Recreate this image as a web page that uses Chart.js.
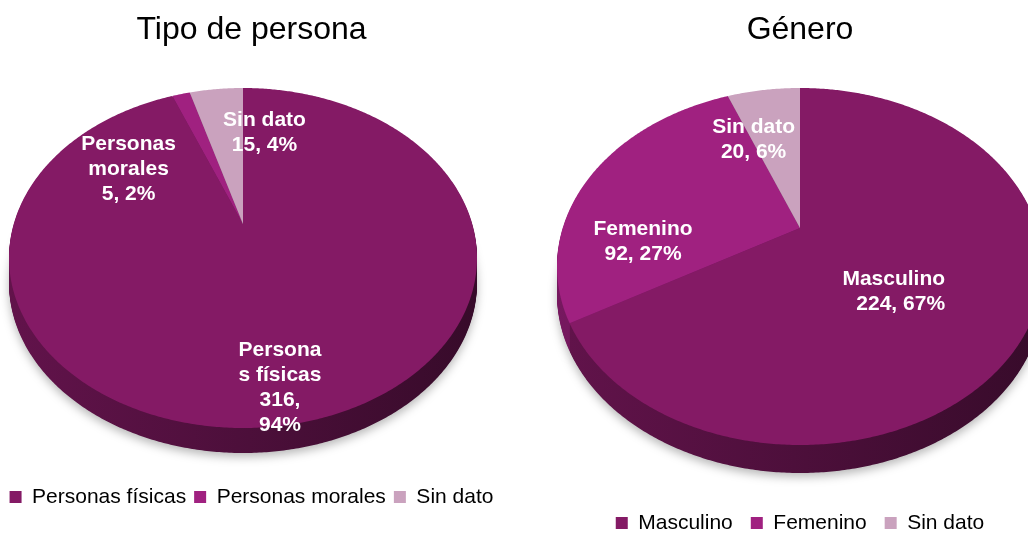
<!DOCTYPE html>
<html lang="es">
<head>
<meta charset="utf-8">
<title>Tipo de persona y Género</title>
<script src="https://cdn.jsdelivr.net/npm/chart.js@4.4.1/dist/chart.umd.min.js"></script>
<style>
  html, body { margin: 0; padding: 0; background: #fff; overflow: hidden; }
  body { width: 1028px; height: 533px; position: relative; }
  canvas { position: absolute; top: 0; }
  #tipo { left: 0; }
  #genero { left: 520px; }
</style>
</head>
<body>
<canvas id="tipo" width="503" height="533"></canvas>
<canvas id="genero" width="560" height="560"></canvas>
<script>
// Data
const tipoLabels = ['Personas físicas', 'Personas morales', 'Sin dato'];
const tipoValues = [316, 5, 15];
const tipoPercents = [94, 2, 4];

const generoLabels = ['Masculino', 'Femenino', 'Sin dato'];
const generoValues = [224, 92, 20];
const generoPercents = [67, 27, 6];

const sliceColors = ['#841a65', '#a02180', '#caa2be'];

Chart.defaults.font.family = "'Liberation Sans', Arial, sans-serif";
Chart.defaults.color = '#000';

function shade(hex, f) {
    const n = parseInt(hex.slice(1), 16);
    const r = Math.round(((n >> 16) & 255) * f);
    const g = Math.round(((n >> 8) & 255) * f);
    const b = Math.round((n & 255) * f);
    return `rgb(${r},${g},${b})`;
}

// word wrap, breaking inside a word when it does not fit (like Excel does)
function wrap(ctx, text, maxWidth) {
    const lines = [];
    let line = '';
    for (const word of text.split(' ')) {
        const trial = line ? line + ' ' + word : word;
        if (ctx.measureText(trial).width <= maxWidth) { line = trial; continue; }
        if (line) lines.push(line);
        line = '';
        let rest = word;
        while (ctx.measureText(rest).width > maxWidth) {
            let k = rest.length - 1;
            while (k > 1 && ctx.measureText(rest.slice(0, k)).width > maxWidth) k--;
            lines.push(rest.slice(0, k));
            rest = rest.slice(k);
        }
        line = rest;
    }
    if (line) lines.push(line);
    return lines;
}

// Draws the library's arcs as a tilted 3D pie seen in perspective (Excel style)
const pie3d = {
    id: 'pie3d',
    geometry(chart, opts) {
        const a = chart.chartArea, m = opts.inset;
        const left = a.left + m.left, right = a.right - m.right;
        const top = a.top + m.top;
        const h = a.bottom - m.bottom - top - opts.depth;
        const k = opts.tilt;
        const rx = (right - left) / 2;
        return {
            x0: left + rx,
            y0: top + h * (1 - k) / 2,
            A: rx * Math.sqrt(1 - k * k),
            B: h * (1 - k * k) / 2,
            k, left, right,
            box: { cx: left + rx, cy: top + h / 2, rx, ry: h / 2 }
        };
    },
    project(g, ang) {
        const u = Math.cos(ang), v = Math.sin(ang);
        const w = 1 - g.k * v;
        return [g.x0 + g.A * u / w, g.y0 + g.B * v / w];
    },
    slicePath(ctx, g, arc, dy) {
        const { startAngle, endAngle } = arc.getProps(['startAngle', 'endAngle'], true);
        const steps = Math.max(2, Math.ceil((endAngle - startAngle) / (Math.PI / 360)));
        ctx.beginPath();
        ctx.moveTo(g.x0, g.y0 + dy);
        for (let i = 0; i <= steps; i++) {
            const p = this.project(g, startAngle + (endAngle - startAngle) * i / steps);
            ctx.lineTo(p[0], p[1] + dy);
        }
        ctx.closePath();
    },
    beforeDatasetsDraw(chart, args, opts) {
        const ctx = chart.ctx;
        const arcs = chart.getDatasetMeta(0).data;
        const colors = chart.data.datasets[0].backgroundColor;
        const g = this.geometry(chart, opts);
        // extruded side
        for (let d = opts.depth; d >= 1; d--) {
            arcs.forEach((arc, i) => {
                ctx.save();
                if (d === opts.depth) {
                    ctx.shadowColor = 'rgba(0,0,0,0.28)';
                    ctx.shadowBlur = 10;
                    ctx.shadowOffsetY = 4;
                }
                const grad = ctx.createLinearGradient(g.left, 0, g.right, 0);
                grad.addColorStop(0, shade(colors[i], 0.74));
                grad.addColorStop(1, shade(colors[i], 0.42));
                ctx.fillStyle = grad;
                this.slicePath(ctx, g, arc, d);
                ctx.fill();
                ctx.restore();
            });
        }
        // top face
        arcs.forEach((arc, i) => {
            ctx.fillStyle = colors[i];
            this.slicePath(ctx, g, arc, 0);
            ctx.fill();
        });
        return false;
    },
    afterDraw(chart, args, opts) {
        const ctx = chart.ctx;
        const e = this.geometry(chart, opts).box;
        const names = chart.data.labels;
        const values = chart.data.datasets[0].data;
        const lh = 25;
        ctx.save();
        ctx.font = "bold 21px 'Liberation Sans', Arial, sans-serif";
        ctx.fillStyle = '#fff';
        ctx.textBaseline = 'middle';
        opts.labels.forEach((lab, i) => {
            const lines = [
                ...wrap(ctx, names[i], lab.width),
                ...wrap(ctx, `${values[i]}, ${opts.percents[i]}%`, lab.width)
            ];
            const x = e.cx + lab.at[0] * e.rx;
            const y0 = e.cy + lab.at[1] * e.ry - (lines.length - 1) * lh / 2;
            ctx.textAlign = lab.align || 'center';
            lines.forEach((t, k) => ctx.fillText(t, x, y0 + k * lh));
        });
        ctx.restore();
    }
};

function makePie(id, title, labels, values, percents, p) {
    new Chart(document.getElementById(id), {
        type: 'pie',
        plugins: [pie3d],
        data: {
            labels,
            datasets: [{
                data: values,
                backgroundColor: sliceColors,
                borderWidth: 0
            }]
        },
        options: {
            responsive: false,
            animation: false,
            events: [],
            layout: { padding: { left: 0, right: 0, top: 0, bottom: p.padBottom } },
            plugins: {
                title: {
                    display: true,
                    text: title,
                    color: '#000',
                    font: { size: 32, weight: 'normal' },
                    padding: { top: 10.8, bottom: 38.8 }
                },
                legend: {
                    position: 'bottom',
                    labels: {
                        boxWidth: 12,
                        boxHeight: 12,
                        padding: p.legendPad,
                        color: '#000',
                        font: { size: 21 }
                    }
                },
                tooltip: { enabled: false },
                pie3d: {
                    depth: p.depth,
                    tilt: p.tilt,
                    inset: p.inset,
                    percents,
                    labels: p.labels
                }
            }
        }
    });
}

makePie('tipo', 'Tipo de persona', tipoLabels, tipoValues, tipoPercents, {
    padBottom: 15.5,
    legendPad: 8,
    depth: 25,
    tilt: 0.2,
    inset: { left: 9, right: 26, top: 0, bottom: 25.5 },
    labels: [
        { at: [0.158, 0.765], width: 86 },
        { at: [-0.489, -0.524], width: 100 },
        { at: [0.092, -0.735], width: 120 }
    ]
});

makePie('genero', 'Género', generoLabels, generoValues, generoPercents, {
    padBottom: 16.5,
    legendPad: 18,
    depth: 28,
    tilt: 0.216,
    inset: { left: 37, right: 37, top: 0, bottom: 21.5 },
    labels: [
        { at: [0.597, 0.143], width: 120, align: 'right' },
        { at: [-0.646, -0.14], width: 120 },
        { at: [-0.191, -0.709], width: 120 }
    ]
});
</script>
</body>
</html>
